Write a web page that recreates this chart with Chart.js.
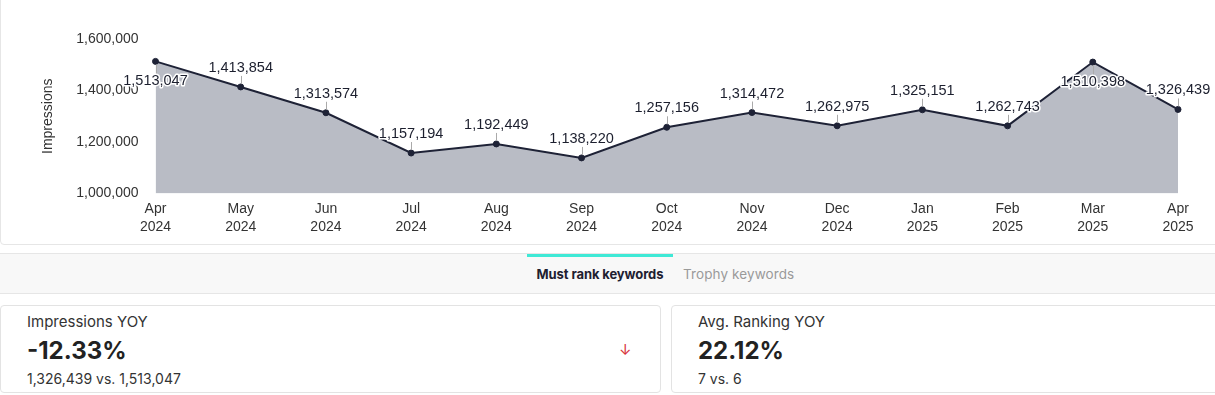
<!DOCTYPE html>
<html lang="en">

<head>
    <meta charset="UTF-8">
    <title>Impressions</title>
    <script src="https://cdn.jsdelivr.net/npm/chart.js"></script>
    <style>
        body { margin: 0; width: 1215px; height: 395px; overflow: hidden; background: #fff; font-family: Inter, "Noto Sans", sans-serif; position: relative; }
        .chart-card { position: absolute; left: 0; top: -10px; width: 1240px; height: 255px; border: 1px solid #e6e6e6; border-radius: 4px; box-sizing: border-box; }
        #myChart { position: absolute; left: 0; top: 0; }
        .tabs { position: absolute; left: 0; top: 253px; width: 1215px; height: 41px; background: #f8f8f8; border-top: 1px solid #e6e6e6; border-bottom: 1px solid #e6e6e6; box-sizing: border-box; }
        .tab { position: absolute; top: 0; height: 39px; line-height: 41px; font-size: 13px; }
        .tab.active { left: 527px; width: 146px; text-align: center; font-weight: 700; color: #1e2030; border-top: 3px solid #3fe9d6; line-height: 35px; letter-spacing: -0.1px; }
        .tab.other { left: 683px; color: #9a9a9a; font-size: 13.5px; letter-spacing: 0.1px; }
        .card { position: absolute; top: 305px; height: 88px; border: 1px solid #e3e3e3; border-radius: 4px; box-sizing: border-box; background: #fff; }
        .card .label { position: absolute; left: 26px; top: 6px; font-size: 15px; color: #333; }
        .card .big { position: absolute; left: 26px; top: 30px; font-size: 24px; font-weight: 700; color: #222; }
        .card .sub { position: absolute; left: 26px; top: 64px; font-size: 14px; color: #333; }
        .card .arrow { position: absolute; left: 618px; top: 34px; font-size: 15px; color: #d8343c; }
    </style>
</head>

<body>
    <div class="chart-card"></div>
    <canvas id="myChart" width="1215" height="245"></canvas>

    <div class="tabs">
        <div class="tab active">Must rank keywords</div>
        <div class="tab other">Trophy keywords</div>
    </div>

    <div class="card" style="left:0; width:661px;">
        <div class="label">Impressions YOY</div>
        <div class="big">-12.33%</div>
        <div class="sub">1,326,439 vs. 1,513,047</div>
        <div class="arrow">&#8595;</div>
    </div>
    <div class="card" style="left:671px; width:570px;">
        <div class="label">Avg. Ranking YOY</div>
        <div class="big">22.12%</div>
        <div class="sub">7 vs. 6</div>
    </div>

    <script>
        const months = ['Apr', 'May', 'Jun', 'Jul', 'Aug', 'Sep', 'Oct', 'Nov', 'Dec', 'Jan', 'Feb', 'Mar', 'Apr'];
        const years = ['2024', '2024', '2024', '2024', '2024', '2024', '2024', '2024', '2024', '2025', '2025', '2025', '2025'];
        const impressions = [1513047, 1413854, 1313574, 1157194, 1192449, 1138220, 1257156, 1314472, 1262975, 1325151, 1262743, 1510398, 1326439];
        const yTicks = [1000000, 1200000, 1400000, 1600000];

        const chartFont = '"Liberation Sans", Arial, sans-serif';

        // value labels with a small leader line, flipped below when no room above
        const pointLabels = {
            id: 'pointLabels',
            afterDatasetsDraw(chart) {
                const ctx = chart.ctx;
                const area = chart.chartArea;
                const meta = chart.getDatasetMeta(0);
                ctx.save();
                ctx.font = '14.5px ' + chartFont;
                ctx.textAlign = 'center';
                ctx.textBaseline = 'middle';
                meta.data.forEach((pt, i) => {
                    const text = impressions[i].toLocaleString('en-US');
                    const below = pt.y - 26 < area.top;
                    const ly = below ? pt.y + 20 : pt.y - 19;
                    const x = Math.round(pt.x) + 0.5;
                    ctx.strokeStyle = '#aaaaaa';
                    ctx.lineWidth = 1;
                    ctx.beginPath();
                    if (below) {
                        ctx.moveTo(x, pt.y + 3);
                        ctx.lineTo(x, pt.y + 14);
                    } else {
                        ctx.moveTo(x, pt.y - 3);
                        ctx.lineTo(x, pt.y - 11);
                    }
                    ctx.stroke();
                    ctx.lineWidth = 3;
                    ctx.lineJoin = 'round';
                    ctx.strokeStyle = '#ffffff';
                    ctx.strokeText(text, pt.x, ly);
                    ctx.fillStyle = '#1c1f2e';
                    ctx.fillText(text, pt.x, ly);
                });
                ctx.restore();
            }
        };

        new Chart(document.getElementById('myChart'), {
            type: 'line',
            data: {
                labels: months.map((m, i) => [m, years[i]]),
                datasets: [{
                    label: 'Impressions',
                    data: impressions,
                    borderColor: '#1e2236',
                    borderWidth: 2,
                    backgroundColor: '#b9bcc5',
                    fill: 'start',
                    tension: 0,
                    pointRadius: 3,
                    pointBackgroundColor: '#1e2236',
                    pointBorderColor: '#1e2236',
                    pointBorderWidth: 1
                }]
            },
            options: {
                responsive: false,
                animation: false,
                devicePixelRatio: 1,
                layout: { padding: { left: 35, right: 37, top: 39, bottom: 0 } },
                plugins: {
                    legend: { display: false },
                    tooltip: { enabled: false }
                },
                scales: {
                    x: {
                        offset: false,
                        grid: { display: false, drawTicks: false },
                        border: { display: false },
                        ticks: {
                            color: '#333',
                            padding: 7,
                            maxRotation: 0,
                            autoSkip: false,
                            font: { family: chartFont, size: 14, lineHeight: 1.25 }
                        },
                        afterFit: (scale) => { scale.height = 51.5; }
                    },
                    y: {
                        min: yTicks[0],
                        max: yTicks[yTicks.length - 1],
                        afterBuildTicks: (scale) => { scale.ticks = yTicks.map(v => ({ value: v })); },
                        grid: { display: false, drawTicks: false },
                        border: { display: false },
                        ticks: {
                            color: '#333',
                            padding: 17,
                            font: { family: chartFont, size: 14 },
                            callback: (v) => Number(v).toLocaleString('en-US')
                        },
                        title: {
                            display: true,
                            text: 'Impressions',
                            color: '#333',
                            padding: { top: 5, bottom: 4 },
                            font: { family: chartFont, size: 14 }
                        },
                        afterFit: (scale) => { scale.width = 120.5; }
                    }
                }
            },
            plugins: [pointLabels]
        });
    </script>
</body>

</html>
